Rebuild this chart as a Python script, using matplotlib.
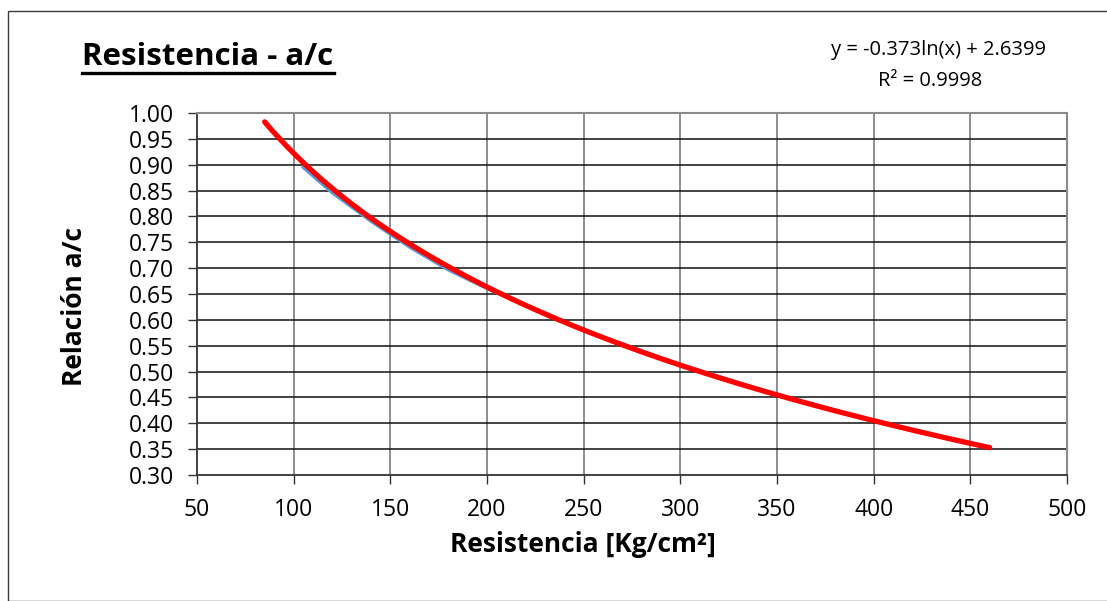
import numpy as np
import matplotlib
matplotlib.use("Agg")
import matplotlib.pyplot as plt
from matplotlib.patches import Rectangle
from matplotlib.lines import Line2D

plt.rcParams['font.family'] = ['Open Sans', 'DejaVu Sans']

# Measured data: strength [kg/cm2] vs water/cement ratio
resistencia = [105, 120, 140, 160, 180, 200, 250, 300, 350, 400, 450]
relacion_ac = [0.895, 0.846, 0.791, 0.741, 0.697, 0.661, 0.580, 0.513, 0.455, 0.405, 0.360]

# Logarithmic trendline  y = a*ln(x) + b
coef_a = -0.373
coef_b = 2.6399
r2 = 0.9998
trend_x_min, trend_x_max = 85, 460

x_ticks = [50, 100, 150, 200, 250, 300, 350, 400, 450, 500]
y_ticks = [0.30, 0.35, 0.40, 0.45, 0.50, 0.55, 0.60, 0.65, 0.70, 0.75,
           0.80, 0.85, 0.90, 0.95, 1.00]

W, H = 1107, 601
fig = plt.figure(figsize=(W / 100, H / 100), dpi=100)
fig.patch.set_facecolor('white')

# chart frame
fig.patches.append(Rectangle((8 / W, 0), 1.5, 1 - 11 / H, transform=fig.transFigure,
                             fill=False, edgecolor='#3a3a3a', linewidth=1.0))

ax = fig.add_axes([197 / W, 1 - 475 / H, (1067 - 197) / W, (475 - 113) / H])
ax.set_xlim(50, 500)
ax.set_ylim(0.30, 1.00)
ax.set_xticks(x_ticks)
ax.set_yticks(y_ticks)
ax.set_yticklabels([f"{v:.2f}" for v in y_ticks])

for v in x_ticks[1:-1]:
    ax.axvline(v, color='#858585', lw=1.3, zorder=1)
for v in y_ticks[1:-1]:
    ax.axhline(v, color='#111111', lw=1.1, zorder=1)

for side in ['top', 'right']:
    ax.spines[side].set_color('#8a8a8a')
    ax.spines[side].set_linewidth(1.5)
ax.spines['left'].set_color('#333333')
ax.spines['bottom'].set_color('#333333')
ax.spines['left'].set_linewidth(1.3)
ax.spines['bottom'].set_linewidth(1.3)

ax.tick_params(axis='both', direction='out', length=6.5, width=1.0, color='#333333',
               labelsize=16.5, pad=10)

ax.plot(resistencia, relacion_ac, color='#5B9BD5', lw=2.6, zorder=3)

tx = np.linspace(trend_x_min, trend_x_max, 300)
ty = coef_a * np.log(tx) + coef_b
ax.plot(tx, ty, color='#FF0000', lw=3.8, solid_capstyle='round', zorder=4)

# axis titles
fig.text(583 / W, 1 - 545 / H, 'Resistencia [Kg/cm²]', fontsize=19,
         fontweight='bold', ha='center', va='center')
fig.text(75 / W, 1 - 306 / H, 'Relación a/c', fontsize=19, fontweight='bold',
         ha='center', va='center', rotation=90)

# chart title with underline
title = fig.text(208 / W, 1 - 57 / H, 'Resistencia - a/c', fontsize=22.5, fontweight='bold',
                 ha='center', va='center')
fig.canvas.draw()
bb = title.get_window_extent()
uy = bb.y0 - 1
fig.add_artist(Line2D([bb.x0 / W, bb.x1 / W], [uy / H, uy / H], transform=fig.transFigure,
                      color='black', lw=2.4))

# trendline equation
fig.text(1046 / W, 1 - 50 / H, f'y = {coef_a}ln(x) + {coef_b}', fontsize=14.5,
         ha='right', va='center')
fig.text(982 / W, 1 - 81 / H, f'R² = {r2}', fontsize=14.5, ha='right', va='center')

fig.savefig('out.png', dpi=100)
